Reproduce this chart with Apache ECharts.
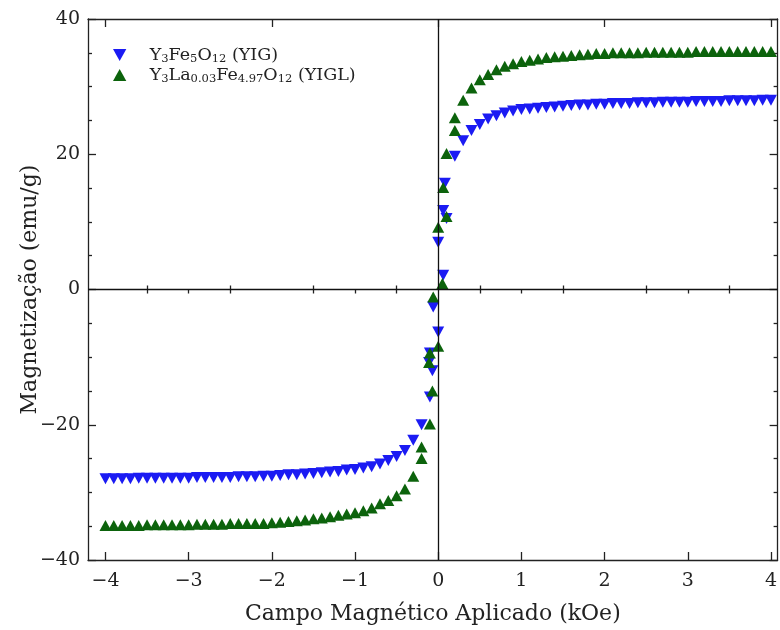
<!DOCTYPE html>
<html>
<head>
<meta charset="utf-8">
<script src="https://cdn.jsdelivr.net/npm/echarts@6/dist/echarts.min.js"></script>
<style>html,body{margin:0;padding:0;background:#fff}#c{width:780px;height:630px}</style>
</head>
<body>
<div id="c"></div>
<script>
// ---- data ----
const hYIG = [-4.0,-3.9,-3.8,-3.7,-3.6,-3.5,-3.4,-3.3,-3.2,-3.1,-3.0,-2.9,-2.8,-2.7,-2.6,-2.5,-2.4,-2.3,-2.2,-2.1,-2.0,-1.9,-1.8,-1.7,-1.6,-1.5,-1.4,-1.3,-1.2,-1.1,-1.0,-0.9,-0.8,-0.7,-0.6,-0.5,-0.4,-0.3,-0.2,-0.1,
  -0.07,-0.11,-0.1,0.0,-0.06,0.06,0.0,0.1,0.06,0.08,0.2,
  0.3,0.4,0.5,0.6,0.7,0.8,0.9,1.0,1.1,1.2,1.3,1.4,1.5,1.6,1.7,1.8,1.9,2.0,2.1,2.2,2.3,2.4,2.5,2.6,2.7,2.8,2.9,3.0,3.1,3.2,3.3,3.4,3.5,3.6,3.7,3.8,3.9,4.0];
const mYIG = [-28.0,-28.0,-28.0,-28.0,-27.9,-27.9,-27.9,-27.9,-27.9,-27.9,-27.9,-27.8,-27.8,-27.8,-27.8,-27.8,-27.7,-27.7,-27.7,-27.6,-27.6,-27.5,-27.4,-27.4,-27.3,-27.2,-27.1,-27.0,-26.9,-26.7,-26.6,-26.4,-26.2,-25.8,-25.3,-24.7,-23.8,-22.3,-20.0,-15.9,
  -12.0,-10.8,-9.4,-6.3,-2.6,2.1,7.0,10.5,11.7,15.7,19.7,
  22.0,23.5,24.4,25.2,25.7,26.1,26.4,26.6,26.7,26.8,26.9,27.0,27.1,27.2,27.3,27.3,27.4,27.4,27.5,27.5,27.5,27.6,27.6,27.6,27.7,27.7,27.7,27.7,27.8,27.8,27.8,27.8,27.9,27.9,27.9,27.9,28.0,28.0];

const hYIGL = [-4.0,-3.9,-3.8,-3.7,-3.6,-3.5,-3.4,-3.3,-3.2,-3.1,-3.0,-2.9,-2.8,-2.7,-2.6,-2.5,-2.4,-2.3,-2.2,-2.1,-2.0,-1.9,-1.8,-1.7,-1.6,-1.5,-1.4,-1.3,-1.2,-1.1,-1.0,-0.9,-0.8,-0.7,-0.6,-0.5,-0.4,-0.3,-0.2,-0.2,-0.1,
  -0.07,-0.11,-0.1,0.0,-0.06,0.05,0.0,0.1,0.06,0.1,0.2,0.2,
  0.3,0.4,0.5,0.6,0.7,0.8,0.9,1.0,1.1,1.2,1.3,1.4,1.5,1.6,1.7,1.8,1.9,2.0,2.1,2.2,2.3,2.4,2.5,2.6,2.7,2.8,2.9,3.0,3.1,3.2,3.3,3.4,3.5,3.6,3.7,3.8,3.9,4.0];
const mYIGL = [-34.9,-34.9,-34.9,-34.9,-34.9,-34.8,-34.8,-34.8,-34.8,-34.8,-34.8,-34.7,-34.7,-34.7,-34.7,-34.6,-34.6,-34.6,-34.6,-34.6,-34.5,-34.4,-34.3,-34.2,-34.1,-33.9,-33.8,-33.6,-33.4,-33.2,-33.0,-32.7,-32.3,-31.7,-31.2,-30.5,-29.5,-27.6,-25.0,-23.3,-19.9,
  -15.0,-10.8,-9.4,-8.4,-1.1,0.9,9.2,10.8,15.1,20.1,23.5,25.4,
  28.0,29.8,31.0,31.8,32.5,33.0,33.4,33.7,33.9,34.1,34.3,34.4,34.5,34.6,34.7,34.8,34.9,34.9,35.0,35.0,35.0,35.0,35.1,35.1,35.1,35.1,35.1,35.1,35.2,35.2,35.2,35.2,35.2,35.2,35.2,35.2,35.2,35.2];

const xMajor = [-4,-3,-2,-1,0,1,2,3,4];
const xMinor = [-3.5,-2.5,-1.5,-0.5,0.5,1.5,2.5,3.5];
const xTopMajor = [-4,-2,0,2,4];
const xTopMinor = [-3.5,-3,-2.5,-1.5,-1,-0.5,0.5,1,1.5,2.5,3,3.5];
const yTicks = [-40,-20,0,20,40];

const seriesNames = ['YIG', 'YIGL'];
const legendLabels = ['Y{s|3}Fe{s|5}O{s|12} (YIG)', 'Y{s|3}La{s|0.03}Fe{s|4.97}O{s|12} (YIGL)'];

// ---- chart ----
const FONT = 'DejaVu Serif';
const BLUE = '#1b1bf3';
const GREEN = '#0c630c';
const minus = v => String(v).replace('-', '\u2212');
const zip = (a, b) => a.map((v, i) => [v, b[i]]);

const chart = echarts.init(document.getElementById('c'), null, {renderer: 'canvas'});

const baseX = {
  type: 'value', min: -4.21, max: 4.08, splitLine: {show: false},
  axisLine: {show: false}, axisLabel: {show: false}
};

chart.setOption({
  animation: false,
  backgroundColor: '#fff',
  textStyle: {fontFamily: FONT},
  grid: {left: 88, right: 2, top: 19, bottom: 70, containLabel: false},
  legend: {
    left: 108, top: 40, orient: 'vertical', itemGap: 0, itemWidth: 14, itemHeight: 12,
    data: [
      {name: 'YIG', icon: 'path://M0,0 L10,0 L5,9 Z'},
      {name: 'YIGL', icon: 'path://M5,0 L10,9 L0,9 Z'}
    ],
    formatter: n => legendLabels[seriesNames.indexOf(n)],
    textStyle: {
      fontFamily: FONT, fontSize: 17.5, color: '#222', lineHeight: 20, padding: [0, 0, 0, 18],
      rich: {s: {fontFamily: FONT, fontSize: 11.5, color: '#222', lineHeight: 12, verticalAlign: 'bottom'}}
    }
  },
  xAxis: [
    Object.assign({}, baseX, {
      position: 'bottom',
      axisLine: {show: true, onZero: false, lineStyle: {color: '#222', width: 1.3}},
      axisTick: {show: true, inside: true, length: 8, customValues: xMajor, lineStyle: {color: '#222', width: 1.3}},
      axisLabel: {show: true, customValues: xMajor, formatter: minus, fontFamily: FONT, fontSize: 19, color: '#222', margin: 12},
      name: 'Campo Magnético Aplicado (kOe)', nameLocation: 'middle', nameGap: 43,
      nameTextStyle: {fontFamily: FONT, fontSize: 22, color: '#222'}
    }),
    Object.assign({}, baseX, {
      position: 'bottom',
      axisTick: {show: true, inside: true, length: 4, customValues: xMinor, lineStyle: {color: '#222', width: 1.3}}
    }),
    Object.assign({}, baseX, {
      position: 'top',
      axisLine: {show: true, onZero: false, lineStyle: {color: '#222', width: 1.3}},
      axisTick: {show: true, inside: true, length: 8, customValues: xTopMajor, lineStyle: {color: '#222', width: 1.3}}
    }),
    Object.assign({}, baseX, {
      position: 'top',
      axisTick: {show: true, inside: true, length: 4, customValues: xTopMinor, lineStyle: {color: '#222', width: 1.3}}
    })
  ],
  yAxis: [
    {
      type: 'value', min: -40, max: 40, interval: 20, position: 'left',
      splitLine: {show: false},
      axisLine: {show: true, onZero: false, lineStyle: {color: '#222', width: 1.3}},
      axisTick: {show: true, inside: true, length: 8, lineStyle: {color: '#222', width: 1.3}},
      minorTick: {show: true, splitNumber: 4, length: 4, lineStyle: {color: '#222', width: 1.3}},
      axisLabel: {formatter: minus, fontFamily: FONT, fontSize: 19, color: '#222', margin: 8},
      name: 'Magnetização (emu/g)', nameLocation: 'middle', nameGap: 47, nameMoveOverlap: false,
      nameTextStyle: {fontFamily: FONT, fontSize: 22, color: '#222'}
    },
    {
      type: 'value', min: -40, max: 40, interval: 20, position: 'right',
      splitLine: {show: false},
      axisLine: {show: true, onZero: false, lineStyle: {color: '#222', width: 1.3}},
      axisTick: {show: true, inside: true, length: 8, lineStyle: {color: '#222', width: 1.3}},
      minorTick: {show: true, splitNumber: 4, length: 4, lineStyle: {color: '#222', width: 1.3}},
      axisLabel: {show: false}
    }
  ],
  series: [
    {
      type: 'scatter', name: '_zero', data: [], z: 1, silent: true,
      markLine: {
        silent: true, symbol: ['none', 'none'], label: {show: false},
        lineStyle: {color: '#111', width: 1.3, type: 'solid'},
        data: [{xAxis: 0}, {yAxis: 0}]
      }
    },
    {
      type: 'scatter', name: 'YIG', data: zip(hYIG, mYIG), z: 2,
      symbol: 'triangle', symbolRotate: 180, symbolSize: [12, 11],
      itemStyle: {color: BLUE, opacity: 1}
    },
    {
      type: 'scatter', name: 'YIGL', data: zip(hYIGL, mYIGL), z: 3,
      symbol: 'triangle', symbolSize: [12, 11],
      itemStyle: {color: GREEN, opacity: 1}
    }
  ]
});
</script>
</body>
</html>
